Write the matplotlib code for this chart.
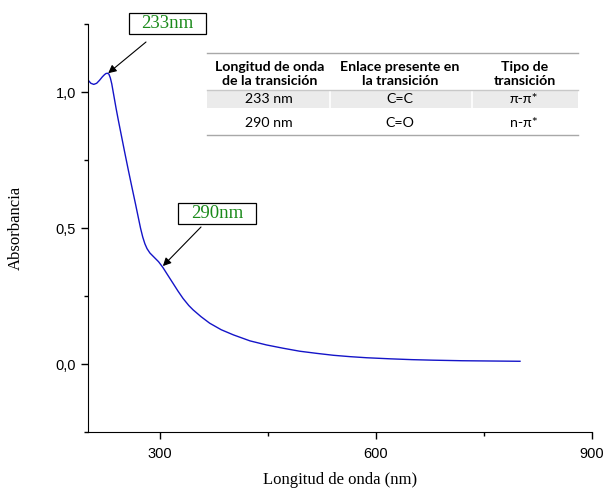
import numpy as np
import matplotlib.pyplot as plt
from matplotlib.ticker import MultipleLocator, FuncFormatter

# espectro UV-Vis
longitud = [200, 204, 208, 212, 216, 220, 223, 225, 227, 229, 231, 233, 236, 239,
            242, 245, 248, 251, 256, 261, 266, 270, 273, 276, 279, 282, 286, 292,
            298, 304, 310, 318, 325, 332, 340, 346, 357, 369, 385, 402, 425, 448,
            471, 494, 518, 541, 564, 587, 620, 650, 680, 720, 760, 800]
absorbancia = [1.044, 1.032, 1.028, 1.032, 1.043, 1.056, 1.064, 1.068, 1.069, 1.066,
               1.052, 1.030, 0.985, 0.940, 0.898, 0.858, 0.818, 0.778, 0.713, 0.650,
               0.588, 0.537, 0.499, 0.467, 0.442, 0.424, 0.408, 0.392, 0.376, 0.355,
               0.330, 0.297, 0.268, 0.241, 0.215, 0.199, 0.174, 0.150, 0.126, 0.107,
               0.085, 0.070, 0.058, 0.047, 0.039, 0.032, 0.027, 0.023, 0.019, 0.016,
               0.014, 0.012, 0.011, 0.010]

cab = ['Longitud de onda\nde la transición', 'Enlace presente en\nla transición', 'Tipo de\ntransición']
filas = [['233 nm', 'C=C', 'π-π*'],
         ['290 nm', 'C=O', 'n-π*']]

fig = plt.figure(figsize=(6.06, 4.94), dpi=100)
ax = fig.add_axes([88/606, 1-432/494, (592-88)/606, 408/494])

ax.plot(longitud, absorbancia, color='#1414c8', linewidth=1.0)

ax.set_xlim(200, 900)
ax.set_ylim(-0.25, 1.25)
ax.spines['top'].set_visible(False)
ax.spines['right'].set_visible(False)
ax.xaxis.set_major_locator(MultipleLocator(300))
ax.xaxis.set_minor_locator(MultipleLocator(150))
ax.yaxis.set_major_locator(MultipleLocator(0.5))
ax.yaxis.set_minor_locator(MultipleLocator(0.25))
ax.yaxis.set_major_formatter(FuncFormatter(lambda v, p: f'{v:.1f}'.replace('.', ',')))
ax.tick_params(which='major', direction='out', length=5, width=1, labelsize=10.5)
ax.tick_params(axis='x', which='major', pad=6)
ax.tick_params(which='minor', direction='out', length=3, width=1)
ax.set_xticks([300, 600, 900])
ax.set_xticklabels(['300', '600', '900'], family='Liberation Sans')
for lbl in ax.get_yticklabels():
    lbl.set_family('Liberation Sans')

ax.set_xlabel('Longitud de onda (nm)', family='Liberation Serif', fontsize=12, labelpad=8)
ax.set_ylabel('Absorbancia', family='Liberation Serif', fontsize=12, labelpad=23)

# pixeles de figura medidos desde arriba
def fx(px):
    return px / 606

def fy(py):
    return 1 - py / 494

# etiquetas con flecha
etiquetas = [('233nm', (129, 13, 206, 34), (146, 42), (228, 1.069)),
             ('290nm', (178, 203, 256, 224), (201, 227), (304, 0.36))]
flecha = dict(arrowstyle='-|>', color='black', lw=0.8, mutation_scale=12, shrinkA=0, shrinkB=0)
for txt, (x0, y0, x1, y1), ini, punta in etiquetas:
    fig.add_artist(plt.Rectangle((fx(x0), fy(y1)), fx(x1 - x0), (y1 - y0) / 494,
                                 fc='white', ec='black', lw=0.9))
    fig.text(fx((x0 + x1) / 2), fy((y0 + y1) / 2 + 0.5), txt, ha='center', va='center',
             family='Liberation Serif', fontsize=13.5, color='#1a8a1a')
    ax.annotate('', xy=punta, xytext=(fx(ini[0]), fy(ini[1])),
                textcoords='figure fraction', arrowprops=flecha)

# tabla de transiciones
cab_x = [270, 400, 525]
fila_x = [269, 400, 524]
fig.add_artist(plt.Rectangle((fx(207), fy(108)), fx(578-207), 18/494, color='#ebebeb', lw=0))
for xs in [330, 472]:
    fig.add_artist(plt.Line2D([fx(xs), fx(xs)], [fy(108), fy(90)], color='white', lw=1.2))
for yl in [52.7, 135]:
    fig.add_artist(plt.Line2D([fx(207), fx(578)], [fy(yl), fy(yl)], color='#a8a8a8', lw=1))
fig.add_artist(plt.Line2D([fx(207), fx(578)], [fy(90), fy(90)], color='#c8c8c8', lw=1))
for c, t in zip(cab_x, cab):
    fig.text(fx(c), fy(74), t, ha='center', va='center', fontsize=10.2,
             fontweight='bold', family='Lato', linespacing=1.25)
for r, fila in zip([99, 123], filas):
    for c, t in zip(fila_x, fila):
        fig.text(fx(c), fy(r), t, ha='center', va='center', fontsize=10.2,
                 family=['Lato', 'DejaVu Sans'])

fig.savefig('out.png', dpi=100)
